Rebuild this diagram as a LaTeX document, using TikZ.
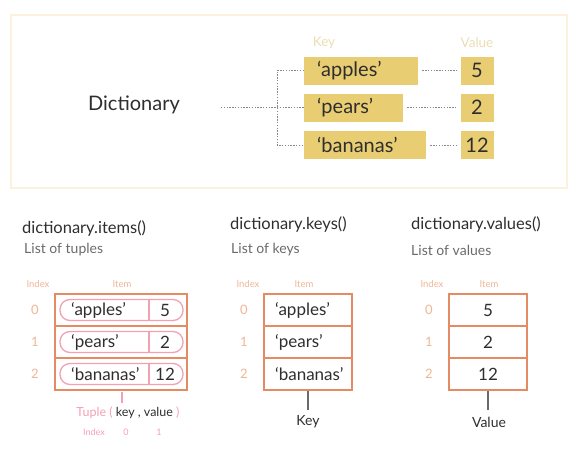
\documentclass[tikz,border=0pt]{standalone}
\usepackage{fontspec}
\setmainfont{Lato}
\definecolor{frame}{HTML}{FBF1DC}
\definecolor{gold}{HTML}{E9CD72}
\definecolor{tan}{HTML}{EBDDB5}
\definecolor{orng}{HTML}{E58B63}
\definecolor{peach}{HTML}{F0B594}
\definecolor{pink}{HTML}{F3A0B3}
\definecolor{txt}{HTML}{2E2E2E}
\definecolor{sub}{HTML}{6A6A6A}
\begin{document}
\begin{tikzpicture}[x=1pt,y=-1pt,
  goldbox/.style={fill=gold,draw=none,inner ysep=0pt,inner xsep=0pt,minimum height=28pt,anchor=west,text=txt,font=\fontsize{20}{24}\selectfont},
  keybox/.style={goldbox,inner xsep=13pt,align=left,text width=#1-26pt},
  dots/.style={draw=sub!80,line width=0.9pt,dash pattern=on 1.4pt off 1.4pt},
  hdr/.style={font=\fontsize{16.5}{19}\selectfont,text=txt,anchor=west,inner sep=0pt},
  subhdr/.style={font=\fontsize{14}{16}\selectfont,text=sub,anchor=west,inner sep=0pt},
  idxhead/.style={font=\fontsize{9.5}{11}\selectfont,text=peach,inner sep=0pt},
  idxnum/.style={font=\fontsize{13}{16}\selectfont,text=peach,inner sep=0pt},
  cell/.style={draw=orng,line width=2.6pt,inner sep=0pt,minimum height=32pt,text=txt,font=\fontsize{17}{20}\selectfont},
  celltxt/.style={font=\fontsize{17}{20}\selectfont,text=txt,inner sep=0pt},
  leader/.style={draw=sub,line width=1.2pt}
]
\useasboundingbox (0,0) rectangle (578,461);
% top frame
\draw[frame,line width=2pt] (11,15) rectangle (567,188);
\node[font=\fontsize{20}{24}\selectfont,text=txt] (dict) at (134,105) {Dictionary};
\node[font=\fontsize{13.5}{16}\selectfont,text=tan] (keyl) at (324,43) {Key};
\node[font=\fontsize{13.5}{16}\selectfont,text=tan] (vall) at (477,43) {Value};
\node[keybox=114pt] (k1) at (304,70.5) {‘apples’};
\node[keybox=99pt] (k2) at (304,107.5) {‘pears’};
\node[keybox=122pt] (k3) at (304,145) {‘bananas’};
\node[goldbox,minimum width=33pt,anchor=center] (v1) at (477,70.5) {5};
\node[goldbox,minimum width=33pt,anchor=center] (v2) at (477,107.5) {2};
\node[goldbox,minimum width=33pt,anchor=center] (v3) at (477,145) {12};
\coordinate (dj) at (277,107.5);
\coordinate (ds) at (221,107.5);
\draw[dots] (ds) -- (k2.west);
\draw[dots] (k1.west) -| (dj) |- (k3.west);
\draw[dots] ([xshift=4pt]k1.east) -- ([xshift=-4pt]v1.west);
\draw[dots] ([xshift=4pt]k2.east) -- ([xshift=-4pt]v2.west);
\draw[dots] ([xshift=4pt]k3.east) -- ([xshift=-4pt]v3.west);

% headings
\node[hdr] (h1) at (22,229) {dictionary.items()};
\node[subhdr] (s1) at (24,250) {List of tuples};
\node[hdr] (h2) at (230,225) {dictionary.keys()};
\node[subhdr] (s2) at (231,250) {List of keys};
\node[hdr] (h3) at (411,225) {dictionary.values()};
\node[subhdr] (s3) at (411,250) {List of values};

% items table
\node[idxhead] (ih1) at (38,284) {Index};
\node[idxhead] (it1) at (122,284) {Item};
\foreach \i/\y in {0/310,1/342,2/374}{\node[idxnum] (in1\i) at (35,\y) {\i};}
\node[cell,minimum width=132pt] (r10) at (121,310) {};
\node[cell,minimum width=132pt] (r11) at (121,342) {};
\node[cell,minimum width=132pt] (r12) at (121,374) {};
\foreach \i/\y/\k/\v in {0/310/‘apples’/5,1/342/‘pears’/2,2/374/‘bananas’/12}{
  \draw[pink,line width=1.3pt,rounded corners=10pt] (60,\y-10.5) rectangle (183,\y+10.5);
  \draw[pink,line width=1.3pt] (149,\y-10.5) -- (149,\y+10.5);
  \node[celltxt,anchor=west] (tk\i) at (71,\y) {\k};
  \node[celltxt] (tv\i) at (165,\y) {\v};
}
\node[inner sep=0pt,font=\fontsize{12.5}{15}\selectfont] (tup) at (128,413) {\textcolor{pink}{Tuple (} \textcolor{txt}{key , value} \textcolor{pink}{)}};
\coordinate (tpb) at (122,392);
\draw[pink,line width=1.2pt] (tpb) -- (122,403);
\node[font=\fontsize{9}{10}\selectfont,text=pink,inner sep=0pt] (ti) at (94,432) {Index};
\node[font=\fontsize{9}{10}\selectfont,text=pink,inner sep=0pt] (t0) at (126,432) {0};
\node[font=\fontsize{9}{10}\selectfont,text=pink,inner sep=0pt] (t1) at (159,432) {1};

% keys table
\node[idxhead] (ih2) at (248,284) {Index};
\node[idxhead] (it2) at (304,284) {Item};
\foreach \i/\y in {0/310,1/342,2/374}{\node[idxnum] (in2\i) at (244,\y) {\i};}
\node[cell,minimum width=88pt] (r20) at (308,310) {};
\node[cell,minimum width=88pt] (r21) at (308,342) {};
\node[cell,minimum width=88pt] (r22) at (308,374) {};
\node[celltxt,anchor=west] (kk0) at (275,310) {‘apples’};
\node[celltxt,anchor=west] (kk1) at (275,342) {‘pears’};
\node[celltxt,anchor=west] (kk2) at (275,374) {‘bananas’};
\node[font=\fontsize{14}{17}\selectfont,text=txt,inner sep=0pt] (keyb) at (308,422) {Key};
\draw[leader] (r22.south) -- (308,410);

% values table
\node[idxhead] (ih3) at (432,284) {Index};
\node[idxhead] (it3) at (489,284) {Item};
\foreach \i/\y in {0/310,1/342,2/374}{\node[idxnum] (in3\i) at (429,\y) {\i};}
\node[cell,minimum width=78pt] (r30) at (488,310) {5};
\node[cell,minimum width=78pt] (r31) at (488,342) {2};
\node[cell,minimum width=78pt] (r32) at (488,374) {12};
\node[font=\fontsize{14}{17}\selectfont,text=txt,inner sep=0pt] (valb) at (489,422) {Value};
\draw[leader] (r32.south) -- (488,410);
\end{tikzpicture}
\end{document}
